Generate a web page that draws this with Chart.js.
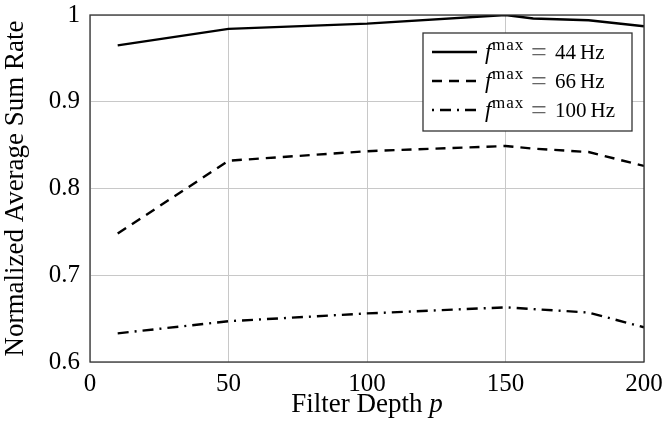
<!DOCTYPE html>
<html>
<head>
<meta charset="utf-8">
<script src="https://cdn.jsdelivr.net/npm/chart.js@4.4.1/dist/chart.umd.min.js"></script>
<style>
  html, body { margin: 0; padding: 0; background: #fff; }
  #wrap { width: 663px; height: 431px; }
</style>
</head>
<body>
<div id="wrap"><canvas id="rateChart"></canvas></div>
<script>
// values
const depths = [10, 50, 100, 150, 160, 180, 200];
const rate44 = [0.965, 0.984, 0.990, 1.000, 0.996, 0.994, 0.987];
const rate66 = [0.748, 0.832, 0.843, 0.849, 0.846, 0.842, 0.826];
const rate100 = [0.633, 0.647, 0.656, 0.663, 0.661, 0.657, 0.640];
const seriesHz = ['44', '66', '100'];
const yTicks = [0.6, 0.7, 0.8, 0.9, 1];
const xTicks = [0, 50, 100, 150, 200];

const serif = '"Liberation Serif", "DejaVu Serif", serif';

function pts(vals) {
  return depths.map((d, i) => ({ x: d, y: vals[i] }));
}

// frame + legend box + x title with italic p
const extras = {
  id: 'extras',
  afterDraw(chart) {
    const c = chart.ctx;
    const a = chart.chartArea;
    c.save();
    c.strokeStyle = '#333';
    c.lineWidth = 1.3;
    c.strokeRect(a.left, a.top, a.right - a.left, a.bottom - a.top);

    // legend
    const bx = a.right - 221, by = a.top + 18, bw = 209, bh = 98;
    c.fillStyle = '#fff';
    c.fillRect(bx, by, bw, bh);
    c.strokeRect(bx, by, bw, bh);
    chart.data.datasets.forEach((ds, i) => {
      const y = by + 19 + i * 29;
      c.beginPath();
      c.setLineDash(ds.borderDash || []);
      c.lineDashOffset = ds.legendDashOffset || 0;
      c.lineWidth = ds.borderWidth;
      c.strokeStyle = ds.borderColor;
      c.moveTo(bx + 9, y);
      c.lineTo(bx + 54, y);
      c.stroke();
      c.setLineDash([]);
      c.fillStyle = '#000';
      c.textBaseline = 'alphabetic';
      c.font = 'italic 23px ' + serif;
      c.fillText('f', bx + 62, y + 7);
      c.font = '17px ' + serif;
      c.letterSpacing = '1px';
      c.fillText('max', bx + 69, y - 2);
      c.letterSpacing = '0px';
      c.font = '28px ' + serif;
      c.fillStyle = '#666';
      c.fillText('=', bx + 108, y + 9);
      c.fillStyle = '#000';
      c.font = '21px ' + serif;
      c.fillText(seriesHz[i], bx + 132, y + 7);
      const nx = bx + 132 + c.measureText(seriesHz[i]).width + 4;
      c.fillText('Hz', nx, y + 7);
    });

    // x axis title
    c.font = '27px ' + serif;
    const t1 = 'Filter Depth ';
    const w1 = c.measureText(t1).width;
    c.font = 'italic 27px ' + serif;
    const w2 = c.measureText('p').width;
    let tx = (a.left + a.right) / 2 - (w1 + w2) / 2;
    c.fillStyle = '#000';
    c.textBaseline = 'alphabetic';
    c.font = '27px ' + serif;
    c.fillText(t1, tx, 412);
    c.font = 'italic 27px ' + serif;
    c.fillText('p', tx + w1, 412);
    c.restore();
  }
};

new Chart(document.getElementById('rateChart'), {
  type: 'line',
  data: {
    datasets: [
      { label: 'f max = 44 Hz', data: pts(rate44), borderColor: '#000', borderWidth: 2.4, borderDash: [] },
      { label: 'f max = 66 Hz', data: pts(rate66), borderColor: '#000', borderWidth: 2.4, borderDash: [10, 7] },
      { label: 'f max = 100 Hz', data: pts(rate100), borderColor: '#000', borderWidth: 2.4, borderDash: [11, 6, 2, 6], legendDashOffset: 17 },
    ],
  },
  options: {
    responsive: true,
    maintainAspectRatio: false,
    animation: false,
    layout: { padding: { top: 15, right: 19, left: 0, bottom: 0 } },
    elements: { point: { radius: 0 }, line: { tension: 0 } },
    plugins: { legend: { display: false }, tooltip: { enabled: false } },
    scales: {
      x: {
        type: 'linear',
        min: 0,
        max: 200,
        afterBuildTicks: (s) => { s.ticks = xTicks.map(v => ({ value: v })); },
        afterFit: (s) => { s.height = 69; s.paddingLeft = 0; s.paddingRight = 0; },
        grid: { color: '#c8c8c8', lineWidth: 1, drawTicks: false },
        border: { display: false },
        ticks: { color: '#000', padding: 7, maxRotation: 0, font: { family: serif, size: 25 } },
      },
      y: {
        min: 0.6,
        max: 1,
        afterBuildTicks: (s) => { s.ticks = yTicks.map(v => ({ value: v })); },
        afterFit: (s) => { s.width = 90; s.paddingTop = 0; s.paddingBottom = 0; },
        grid: { color: '#c8c8c8', lineWidth: 1, drawTicks: false },
        border: { display: false },
        ticks: {
          color: '#000',
          padding: 10,
          font: { family: serif, size: 25 },
          callback: (v) => (v === 1 ? '1' : v.toFixed(1)),
        },
        title: {
          display: true,
          text: 'Normalized Average Sum Rate',
          color: '#000',
          font: { family: serif, size: 27 },
          padding: { top: 0, bottom: 0 },
        },
      },
    },
  },
  plugins: [extras],
});
</script>
</body>
</html>
